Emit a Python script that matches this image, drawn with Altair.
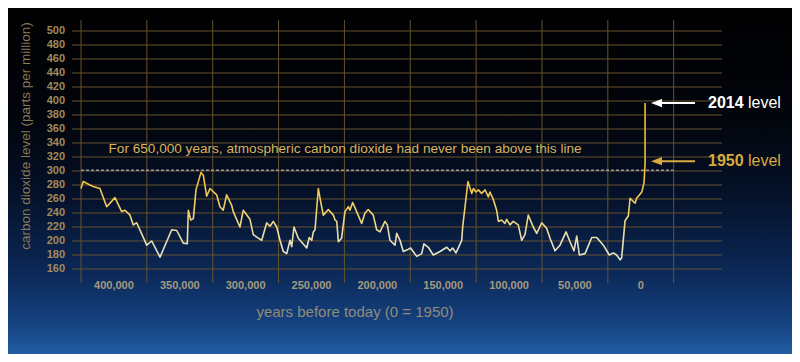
import altair as alt
import pandas as pd

# ---- data ----
years = [425000, 423300, 418200, 415700, 410600, 405500, 399200, 394100, 391600, 387800,
         385300, 382700, 375100, 371300, 365000, 356100, 352300, 347300, 344300, 343500,
         341700, 339700, 337700, 333900, 332100, 329600, 327100, 322000, 319500, 317000,
         314400, 310600, 309400, 304300, 301800, 296700, 294200, 287800, 284000, 281500,
         279000, 276400, 273900, 271400, 268800, 266300, 265000, 263300, 260000, 253600,
         251700, 249800, 248600, 247300, 244800, 243000, 241000, 237200, 233400, 232100,
         230800, 229600, 227100, 224600, 222000, 220800, 218700, 215700, 211900, 209400,
         206900, 203100, 200500, 198000, 194200, 192400, 190400, 186600, 185300, 182800,
         180300, 177700, 174700, 170100, 166300, 164600, 161300, 157500, 152400, 147300,
         144800, 142800, 140300, 137800, 135900, 135200, 131200, 128300, 127100, 125100,
         123300, 120800, 118200, 115700, 114500, 111900, 109400, 108100, 105600, 103100,
         101800, 99300, 96800, 93000, 90400, 87900, 85400, 81600, 79000, 75200,
         71400, 68900, 65100, 61300, 56700, 53700, 50700, 48600, 46600, 42300,
         37200, 33400, 28400, 23900, 20800, 18300, 15700, 14500, 11900, 9400,
         8100, 4300, 3100, -800, -2500, -3300, -3300]
co2 = [275, 285, 280, 278, 275, 249, 262, 242, 244, 237,
       223, 226, 194, 200, 177, 216, 215, 197, 196, 244,
       230, 232, 273, 298, 294, 264, 275, 266, 249, 244,
       266, 251, 242, 220, 244, 231, 209, 201, 226, 221,
       228, 220, 201, 185, 182, 201, 192, 220, 204, 190,
       205, 201, 213, 216, 275, 256, 237, 245, 237, 230,
       228, 199, 204, 242, 249, 244, 255, 242, 225, 240,
       245, 237, 216, 213, 228, 223, 201, 194, 211, 201,
       185, 187, 190, 178, 182, 196, 191, 180, 185, 191,
       186, 190, 183, 193, 201, 220, 285, 268, 275, 270,
       273, 268, 273, 263, 270, 259, 244, 228, 230, 225,
       231, 223, 228, 223, 201, 209, 237, 220, 211, 226,
       218, 204, 186, 194, 213, 199, 186, 207, 180, 182,
       205, 205, 194, 180, 183, 180, 173, 176, 229, 236,
       261, 254, 261, 270, 283, 311, 397]

y_ticks = list(range(160, 501, 20))
x_labels = [400000, 350000, 300000, 250000, 200000, 150000, 100000, 50000, 0]
x_grid = [425000, 375000, 325000, 275000, 225000, 175000, 125000, 75000, 25000, -25000]

y_title = ["carbon dioxide level (parts per million)"]
x_title = ["years before today (0 = 1950)"]

note_text = ["For 650,000 years, atmospheric carbon dioxide had never been above this line"]
note_x = [224500]
note_y = [331]

threshold = [301]
threshold_from = [425000]
threshold_to = [-25000]

ann_year = ["2014", "1950"]
ann_value = [397, 314]
ann_color = ["#ffffff", "#d9aa3c"]
arrow_tip = [-11990, -11990]
arrow_start = [-15400, -15400]
arrow_end = [-41200, -41200]
label_x = [-51100, -51100]
word_x = [-81450, -81450]

# ---- layout ----
W, H = 641, 263
FONT = "Liberation Sans"
GRID = "#66532f"
xscale = alt.Scale(domain=[425000, -61700], nice=False, zero=False)
yscale = alt.Scale(domain=[140, 515.7], nice=False, zero=False)

bg_grad = alt.Gradient(
    gradient="linear", x1=0, x2=0, y1=0, y2=1,
    stops=[
        alt.GradientStop(offset=0, color="#000000"),
        alt.GradientStop(offset=0.33, color="#02050c"),
        alt.GradientStop(offset=0.55, color="#05122b"),
        alt.GradientStop(offset=0.75, color="#0b2857"),
        alt.GradientStop(offset=0.88, color="#143f7c"),
        alt.GradientStop(offset=1, color="#2463ac"),
    ],
)
line_grad = alt.Gradient(
    gradient="linear", x1=0, x2=0, y1=0, y2=1,
    stops=[
        alt.GradientStop(offset=0, color="#f6b630"),
        alt.GradientStop(offset=0.45, color="#f2bd3c"),
        alt.GradientStop(offset=0.68, color="#f0cf66"),
        alt.GradientStop(offset=0.9, color="#e8e2bf"),
        alt.GradientStop(offset=1, color="#e6e4cc"),
    ],
)

bg = alt.Chart(pd.DataFrame({"a": [0]})).mark_rect(color=bg_grad).encode(
    x=alt.value(-81), x2=alt.value(719), y=alt.value(-20), y2=alt.value(342)
)

hgrid = alt.Chart(pd.DataFrame({"v": y_ticks})).mark_rule(color=GRID, strokeWidth=1).encode(
    y=alt.Y("v:Q", scale=yscale, axis=None), x=alt.value(-9), x2=alt.value(W)
)
vgrid = alt.Chart(pd.DataFrame({"g": x_grid})).mark_rule(color=GRID, strokeWidth=1).encode(
    x=alt.X("g:Q", scale=xscale, axis=None), y=alt.value(0), y2=alt.value(H)
)

# tick labels and axis titles
ylab = alt.Chart(pd.DataFrame({"v": y_ticks})).mark_text(
    font=FONT, fontSize=11, fontWeight="bold", color="#a08a5c", align="right", baseline="middle"
).encode(
    y=alt.Y("v:Q", scale=yscale, axis=None), x=alt.value(-16), text=alt.Text("v:Q", format="d")
)
xlab = alt.Chart(pd.DataFrame({"v": x_labels})).mark_text(
    font=FONT, fontSize=11, fontWeight="bold", color="#a39a80", align="center", baseline="middle"
).encode(
    x=alt.X("v:Q", scale=xscale, axis=None), y=alt.value(H + 3), text=alt.Text("v:Q", format=",d")
)
ytitle = alt.Chart(pd.DataFrame({"t": y_title})).mark_text(
    font=FONT, fontSize=13.5, color="#8a7a55", angle=270, align="center", baseline="middle"
).encode(x=alt.value(-55), y=alt.value(116), text="t:N")
xtitle = alt.Chart(pd.DataFrame({"t": x_title})).mark_text(
    font=FONT, fontSize=15, color="#918c7a", align="center", baseline="middle"
).encode(x=alt.value(274), y=alt.value(H + 29), text="t:N")

dash = alt.Chart(pd.DataFrame({"a": threshold_from, "b": threshold_to, "v": threshold})).mark_rule(
    color="#9a9a9a", strokeDash=[3, 2], strokeWidth=1.5
).encode(
    x=alt.X("a:Q", scale=xscale, axis=None), x2="b:Q", y=alt.Y("v:Q", scale=yscale, axis=None)
)

note = alt.Chart(pd.DataFrame({"t": note_text, "x": note_x, "y": note_y})).mark_text(
    font=FONT, fontSize=13.6, color="#d9b45a", align="center", baseline="middle"
).encode(
    x=alt.X("x:Q", scale=xscale, axis=None), y=alt.Y("y:Q", scale=yscale, axis=None), text="t:N"
)

df = pd.DataFrame({"year": years, "co2": co2, "i": list(range(len(years)))})
line = alt.Chart(df).mark_line(color=line_grad, strokeWidth=1.6, strokeJoin="round").encode(
    x=alt.X("year:Q", scale=xscale, axis=None),
    y=alt.Y("co2:Q", scale=yscale, axis=None),
    order="i:Q",
)

ann = pd.DataFrame({
    "year": ann_year, "v": ann_value, "c": ann_color, "tip": arrow_tip,
    "s": arrow_start, "e": arrow_end, "lx": label_x, "wx": word_x,
    "word": ["level", "level"],
})
shafts = alt.Chart(ann).mark_rule(strokeWidth=2).encode(
    x=alt.X("s:Q", scale=xscale, axis=None), x2="e:Q",
    y=alt.Y("v:Q", scale=yscale, axis=None),
    color=alt.Color("c:N", scale=None),
)
heads = alt.Chart(ann).mark_point(
    shape="M -1 0 L 1 -0.75 L 1 0.75 Z", filled=True, size=121, opacity=1
).encode(
    x=alt.X("tip:Q", scale=xscale, axis=None), y=alt.Y("v:Q", scale=yscale, axis=None),
    color=alt.Color("c:N", scale=None),
)
yr_text = alt.Chart(ann).mark_text(
    font=FONT, fontSize=16, fontWeight="bold", align="left", baseline="middle"
).encode(
    x=alt.X("lx:Q", scale=xscale, axis=None), y=alt.Y("v:Q", scale=yscale, axis=None),
    text="year:N", color=alt.Color("c:N", scale=None),
)
lvl_text = alt.Chart(ann).mark_text(
    font=FONT, fontSize=16, align="left", baseline="middle"
).encode(
    x=alt.X("wx:Q", scale=xscale, axis=None), y=alt.Y("v:Q", scale=yscale, axis=None),
    text="word:N", color=alt.Color("c:N", scale=None),
)

chart = alt.layer(
    bg, hgrid, vgrid, ylab, xlab, ytitle, xtitle, dash, note, line, shafts, heads, yr_text, lvl_text
).properties(
    width=W, height=H,
    autosize=alt.AutoSizeParams(type="none"),
    padding={"left": 73, "top": 12, "right": 70, "bottom": 71},
    background="#000000",
).configure_view(stroke=None)

chart.save("out.html", embed_options={"renderer": "svg", "actions": False})
